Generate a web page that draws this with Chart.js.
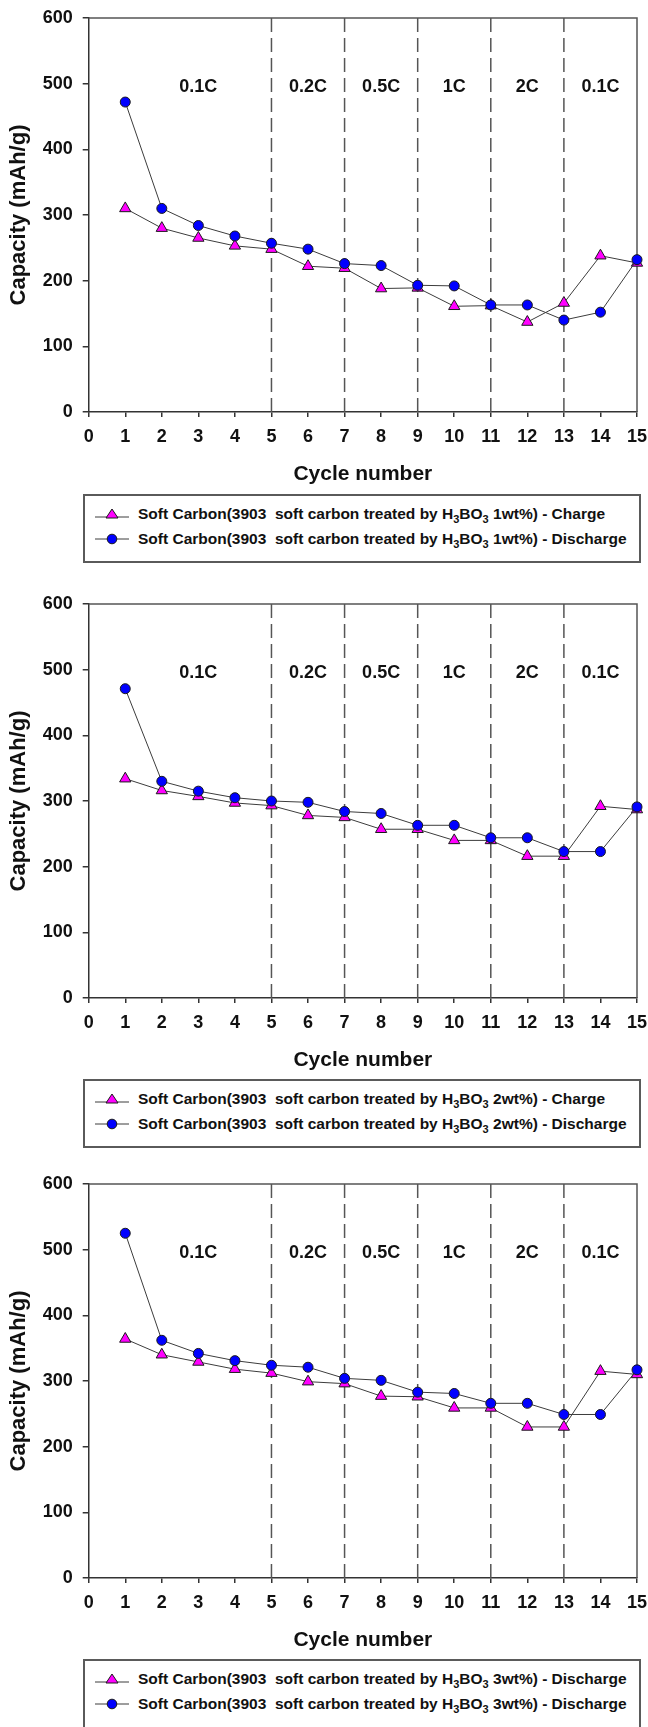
<!DOCTYPE html>
<html><head><meta charset="utf-8">
<script src="https://cdn.jsdelivr.net/npm/chart.js@4.4.1/dist/chart.umd.min.js"></script>
<style>
html,body{margin:0;padding:0;background:#fff;width:648px;height:1727px;overflow:hidden;position:relative;}
canvas.cv{position:absolute;left:0;}
.legend{position:absolute;left:83px;width:558px;border:2px solid #5a5a5a;box-sizing:border-box;background:#fff;
  font-family:'Liberation Sans',Arial,sans-serif;font-weight:bold;font-size:15.5px;color:#111;}
.row{position:absolute;left:0;height:20px;white-space:pre;}
.row svg{position:absolute;left:10px;top:3px;}
.row span{position:absolute;left:53px;top:0;line-height:20px;}
sub{font-size:11px;vertical-align:-4px;line-height:0;}
</style></head>
<body>
<canvas id="c1" class="cv" width="648" height="492" style="top:0px"></canvas>
<canvas id="c2" class="cv" width="648" height="492" style="top:585.5px"></canvas>
<canvas id="c3" class="cv" width="648" height="492" style="top:1165.5px"></canvas>
<div id="lg1" class="legend" style="top:494px;height:69px"></div>
<div id="lg2" class="legend" style="top:1079px;height:69px"></div>
<div id="lg3" class="legend" style="top:1659px;height:100px"></div>
<script>
// ---- data ----
const cycles = [1,2,3,4,5,6,7,8,9,10,11,12,13,14,15];
const xTicks = [0,1,2,3,4,5,6,7,8,9,10,11,12,13,14,15];
const yTicks = [0,100,200,300,400,500,600];
const rateBoundaries = [5,7,9,11,13];
const rateLabels = ['0.1C','0.2C','0.5C','1C','2C','0.1C'];
const rateLabelCycle = [3,6,8,10,12,14];
const rateLabelValue = 495;

const charge1 = [310,280,265,253,248,222,219,188,189,161,162,137,166,238,227];
const discharge1 = [472,310,284,268,257,248,226,223,193,192,163,163,140,152,232];
const charge2 = [334,316,307,297,293,278,275,257,257,240,240,216,216,292,287];
const discharge2 = [471,330,315,305,300,298,284,281,263,263,244,244,223,223,291];
const charge3 = [364,340,329,318,312,299,296,277,276,259,259,230,230,315,310];
const discharge3 = [525,362,342,331,324,321,304,301,283,281,266,266,249,249,317];

const legend1 = ['Soft Carbon(3903  soft carbon treated by H3BO3 1wt%) - Charge','Soft Carbon(3903  soft carbon treated by H3BO3 1wt%) - Discharge'];
const legend2 = ['Soft Carbon(3903  soft carbon treated by H3BO3 2wt%) - Charge','Soft Carbon(3903  soft carbon treated by H3BO3 2wt%) - Discharge'];
const legend3 = ['Soft Carbon(3903  soft carbon treated by H3BO3 3wt%) - Discharge','Soft Carbon(3903  soft carbon treated by H3BO3 3wt%) - Discharge'];

const xTitle = 'Cycle number';
const yTitle = 'Capacity (mAh/g)';

// ---- drawing ----
const FONT = "'Liberation Sans', Arial, sans-serif";

const overlay = {
  id: 'overlay',
  beforeDatasetsDraw(chart) {
    const {ctx, chartArea: a, scales: {x, y}} = chart;
    ctx.save();
    ctx.strokeStyle = '#555';
    ctx.lineWidth = 1.5;
    ctx.setLineDash([14, 6]);
    rateBoundaries.forEach(v => {
      const px = x.getPixelForValue(v);
      ctx.beginPath(); ctx.moveTo(px, a.top); ctx.lineTo(px, a.bottom); ctx.stroke();
    });
    ctx.setLineDash([]);
    ctx.strokeStyle = '#555';
    ctx.lineWidth = 1.5;
    ctx.beginPath();
    ctx.moveTo(a.left, a.top); ctx.lineTo(a.right, a.top); ctx.lineTo(a.right, a.bottom);
    ctx.stroke();
    ctx.fillStyle = '#111';
    ctx.font = 'bold 18px ' + FONT;
    ctx.textAlign = 'center';
    ctx.textBaseline = 'middle';
    rateLabels.forEach((t, i) => {
      ctx.fillText(t, x.getPixelForValue(rateLabelCycle[i]), y.getPixelForValue(rateLabelValue));
    });
    ctx.restore();
  }
};

function makeChart(id, charge, discharge) {
  const pts = arr => cycles.map((c, i) => ({x: c, y: arr[i]}));
  return new Chart(document.getElementById(id), {
    type: 'line',
    data: {
      datasets: [
        {label: 'Discharge', data: pts(discharge), borderColor: '#3c3c3c', borderWidth: 1, clip: false,
         pointStyle: 'circle', pointRadius: 5, pointBackgroundColor: '#0000ff',
         pointBorderColor: '#1a1a1a', pointBorderWidth: 1, tension: 0},
        {label: 'Charge', data: pts(charge), borderColor: '#3c3c3c', borderWidth: 1, clip: false,
         pointStyle: 'triangle', pointRadius: 6.5, pointBackgroundColor: '#ff00ff',
         pointBorderColor: '#1a1a1a', pointBorderWidth: 1, tension: 0}
      ]
    },
    options: {
      responsive: false, animation: false, devicePixelRatio: 1,
      layout: {padding: {top: 18, right: 11, left: 0, bottom: 0}},
      plugins: {legend: {display: false}, tooltip: {enabled: false}},
      scales: {
        x: {
          type: 'linear', min: 0, max: 15,
          afterBuildTicks(s) { s.ticks = xTicks.map(v => ({value: v})); },
          ticks: {font: {family: FONT, size: 18, weight: 'bold'}, color: '#111', padding: 9, maxRotation: 0, autoSkip: false},
          grid: {drawOnChartArea: false, tickLength: 5, color: '#333', lineWidth: 1.5},
          border: {color: '#333', width: 1.5},
          title: {display: true, text: xTitle, color: '#111', font: {family: FONT, size: 21, weight: 'bold'}, padding: {top: 0, bottom: 4.8}},
          afterFit(s) { s.height = 80; s.paddingLeft = 0; s.paddingRight = 0; }
        },
        y: {
          min: 0, max: 600,
          afterBuildTicks(s) { s.ticks = yTicks.map(v => ({value: v})); },
          ticks: {font: {family: FONT, size: 18, weight: 'bold'}, color: '#111', padding: 10},
          grid: {drawOnChartArea: false, tickLength: 6, color: '#333', lineWidth: 1.5},
          border: {color: '#333', width: 1.5},
          title: {display: true, text: yTitle, color: '#111', font: {family: FONT, size: 22, weight: 'bold'}, padding: {top: 6, bottom: 0}},
          afterFit(s) { s.width = 88.7; s.paddingTop = 0; s.paddingBottom = 0; }
        }
      }
    },
    plugins: [overlay]
  });
}

function makeLegend(id, labels) {
  const box = document.getElementById(id);
  const markers = [
    '<polygon points="17,2 23,11 11,11" fill="#ff00ff" stroke="#1a1a1a" stroke-width="1"/>',
    '<circle cx="17" cy="7" r="4.8" fill="#0000ff" stroke="#1a1a1a" stroke-width="1"/>'
  ];
  const rowCenters = [17.7, 43];
  labels.forEach((t, i) => {
    const row = document.createElement('div');
    row.className = 'row';
    row.style.top = (rowCenters[i] - 10) + 'px';
    row.style.width = '100%';
    const html = t.replace('H3BO3', 'H<sub>3</sub>BO<sub>3</sub>');
    row.innerHTML = '<svg width="34" height="14" viewBox="0 0 34 14"><line x1="0" y1="' + (i === 0 ? 10 : 7) + '" x2="34" y2="' + (i === 0 ? 10 : 7) + '" stroke="#3c3c3c" stroke-width="1"/>' + markers[i] + '</svg><span>' + html + '</span>';
    box.appendChild(row);
  });
}

makeChart('c1', charge1, discharge1);
makeChart('c2', charge2, discharge2);
makeChart('c3', charge3, discharge3);
makeLegend('lg1', legend1);
makeLegend('lg2', legend2);
makeLegend('lg3', legend3);
</script>
</body></html>
